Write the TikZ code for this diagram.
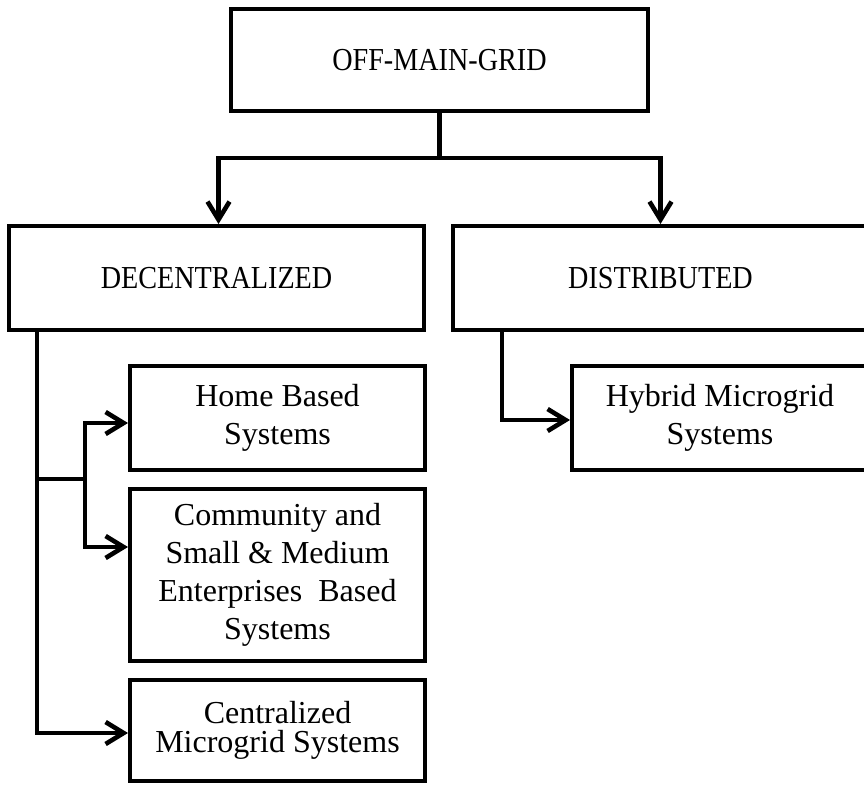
\documentclass[tikz,border=0pt]{standalone}
\usepackage{fontspec}
\setmainfont{Liberation Serif}
\usetikzlibrary{arrows.meta}
\newcommand{\capstext}[1]{\scalebox{0.88}[1]{#1}}
\tikzset{
  box/.style={draw, line width=2pt, rectangle, inner sep=0pt, align=center},
  capsbox/.style={box, font=\fontsize{16}{19}\selectfont},
  txtbox/.style={box, font=\fontsize{16}{19}\selectfont},
  conn/.style={line width=2.3pt, line join=miter},
  arr/.style={conn, -{Straight Barb[length=9pt,width=11pt]}}
}
\begin{document}
\begin{tikzpicture}[x=0.5pt,y=-0.5pt]
\useasboundingbox (0,0) rectangle (864,784);
\clip (0,0) rectangle (864,784);
\node[capsbox, minimum width=208.5pt, minimum height=51pt] (top) at (439.5,60) {\capstext{OFF-MAIN-GRID}};
\node[capsbox, minimum width=207.5pt, minimum height=52pt] (dec) at (216.5,278) {\capstext{DECENTRALIZED}};
\node[capsbox, minimum width=207.5pt, minimum height=52pt] (dist) at (660.5,278) {\capstext{DISTRIBUTED}};
\node[txtbox, minimum width=147.5pt, minimum height=52pt] (home) at (277.5,418) {Home Based\\Systems};
\node[txtbox, minimum width=147.5pt, minimum height=86pt] (comm) at (277.5,575) {Community and\\Small \& Medium\\Enterprises~ Based\\Systems};
\node[box, font=\fontsize{16}{14.5}\selectfont, minimum width=147.5pt, minimum height=50.5pt] (cent) at (277.5,730.5) {Centralized\\Microgrid Systems};
\node[txtbox, minimum width=148pt, minimum height=52pt] (hyb) at (720,418) {Hybrid Microgrid\\Systems};
% junction coordinates
\coordinate (bar) at (0,158);
\coordinate (tx) at (37,0);
\coordinate (j1) at (37,479);
\coordinate (j2) at (85,479);
\coordinate (dx) at (502,0);
% top to second row
\draw[arr] (top.south) -- (top.south |- bar) -| ([xshift=1pt]dec.north);
\draw[arr] (top.south) -- (top.south |- bar) -| (dist.north);
% decentralized trunk
\draw[arr] (dec.south -| tx) |- ([yshift=-1.25pt]cent.west);
\draw[conn] (j1) -- (j2);
\draw[arr] (j2) |- ([yshift=-2.5pt]home.west);
\draw[arr] (j2) |- ([yshift=14pt]comm.west);
% distributed trunk
\draw[arr] (dist.south -| dx) |- ([yshift=-1pt]hyb.west);
\end{tikzpicture}
\end{document}
